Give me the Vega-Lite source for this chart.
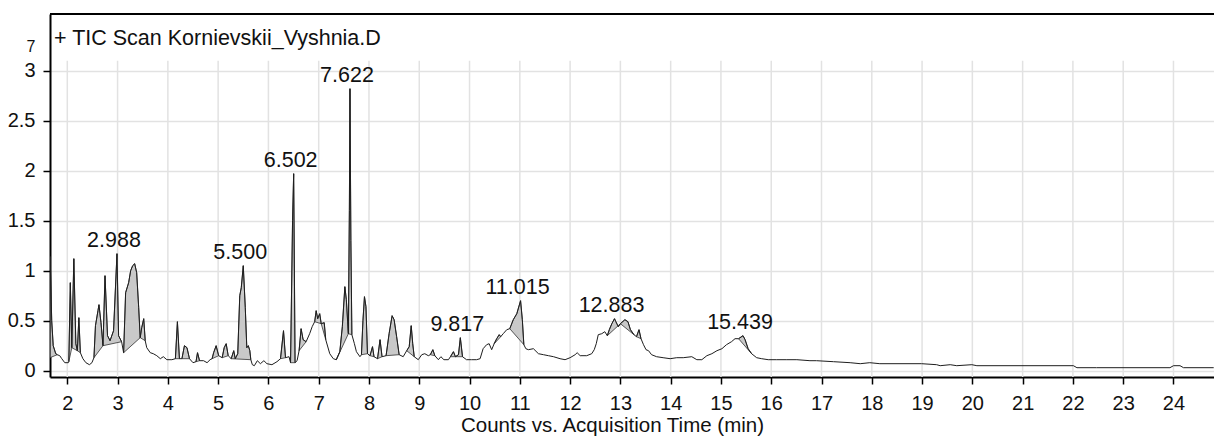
{
  "$schema": "https://vega.github.io/schema/vega-lite/v6.json",
  "width": 1164,
  "height": 363,
  "autosize": {"type": "none"},
  "padding": {"left": 50, "top": 14, "right": 0, "bottom": 59},
  "background": "white",
  "view": {"stroke": "transparent", "strokeWidth": 0},
  "title": {
    "text": "+ TIC Scan Kornievskii_Vyshnia.D",
    "anchor": "start",
    "frame": "group",
    "orient": "top",
    "offset": -53,
    "baseline": "alphabetic",
    "dx": 4,
    "font": "Liberation Sans",
    "fontSize": 21.5,
    "fontWeight": "normal",
    "color": "#111111"
  },
  "config": {
    "view": {"stroke": "transparent", "strokeWidth": 0},
    "font": "Liberation Sans"
  },
  "datasets": {
    "tic": [
      {"t": 1.656, "v": 0.13}, {"t": 1.66, "v": 1.14}, {"t": 1.69, "v": 0.5}, {"t": 1.72, "v": 0.25},
      {"t": 1.77, "v": 0.17}, {"t": 1.80, "v": 0.16}, {"t": 1.85, "v": 0.15}, {"t": 1.89, "v": 0.12},
      {"t": 1.95, "v": 0.08}, {"t": 2.02, "v": 0.08}, {"t": 2.03, "v": 0.09}, {"t": 2.06, "v": 0.88},
      {"t": 2.09, "v": 0.23}, {"t": 2.13, "v": 1.12}, {"t": 2.17, "v": 0.27}, {"t": 2.20, "v": 0.2},
      {"t": 2.23, "v": 0.53}, {"t": 2.26, "v": 0.18}, {"t": 2.31, "v": 0.12}, {"t": 2.37, "v": 0.08},
      {"t": 2.44, "v": 0.06}, {"t": 2.49, "v": 0.08}, {"t": 2.53, "v": 0.13}, {"t": 2.56, "v": 0.45},
      {"t": 2.61, "v": 0.6}, {"t": 2.63, "v": 0.66}, {"t": 2.67, "v": 0.48}, {"t": 2.71, "v": 0.25},
      {"t": 2.75, "v": 0.95}, {"t": 2.80, "v": 0.35}, {"t": 2.85, "v": 0.3}, {"t": 2.92, "v": 0.4},
      {"t": 2.988, "v": 1.17}, {"t": 3.02, "v": 0.35}, {"t": 3.08, "v": 0.29}, {"t": 3.12, "v": 0.18},
      {"t": 3.16, "v": 0.78}, {"t": 3.22, "v": 0.88}, {"t": 3.26, "v": 1.0}, {"t": 3.30, "v": 1.05},
      {"t": 3.34, "v": 1.07}, {"t": 3.38, "v": 0.98}, {"t": 3.42, "v": 0.63}, {"t": 3.45, "v": 0.33},
      {"t": 3.48, "v": 0.43}, {"t": 3.52, "v": 0.52}, {"t": 3.55, "v": 0.3}, {"t": 3.58, "v": 0.23},
      {"t": 3.65, "v": 0.18}, {"t": 3.71, "v": 0.17}, {"t": 3.78, "v": 0.15}, {"t": 3.85, "v": 0.12},
      {"t": 3.91, "v": 0.14}, {"t": 3.98, "v": 0.11}, {"t": 4.08, "v": 0.11}, {"t": 4.15, "v": 0.12},
      {"t": 4.19, "v": 0.49}, {"t": 4.23, "v": 0.12}, {"t": 4.28, "v": 0.12}, {"t": 4.33, "v": 0.25},
      {"t": 4.38, "v": 0.23}, {"t": 4.43, "v": 0.12}, {"t": 4.50, "v": 0.08}, {"t": 4.56, "v": 0.09},
      {"t": 4.59, "v": 0.18}, {"t": 4.63, "v": 0.1}, {"t": 4.71, "v": 0.1}, {"t": 4.78, "v": 0.08},
      {"t": 4.84, "v": 0.11}, {"t": 4.88, "v": 0.12}, {"t": 4.91, "v": 0.18}, {"t": 4.96, "v": 0.25},
      {"t": 5.01, "v": 0.15}, {"t": 5.08, "v": 0.13}, {"t": 5.12, "v": 0.23}, {"t": 5.16, "v": 0.27},
      {"t": 5.20, "v": 0.15}, {"t": 5.26, "v": 0.12}, {"t": 5.31, "v": 0.2}, {"t": 5.34, "v": 0.12},
      {"t": 5.39, "v": 0.17}, {"t": 5.43, "v": 0.75}, {"t": 5.46, "v": 0.83}, {"t": 5.50, "v": 1.05},
      {"t": 5.54, "v": 0.63}, {"t": 5.57, "v": 0.23}, {"t": 5.60, "v": 0.25}, {"t": 5.63, "v": 0.2},
      {"t": 5.65, "v": 0.11}, {"t": 5.68, "v": 0.06}, {"t": 5.72, "v": 0.05}, {"t": 5.78, "v": 0.1},
      {"t": 5.84, "v": 0.07}, {"t": 5.91, "v": 0.1}, {"t": 5.97, "v": 0.07}, {"t": 6.07, "v": 0.06},
      {"t": 6.17, "v": 0.09}, {"t": 6.24, "v": 0.12}, {"t": 6.30, "v": 0.4}, {"t": 6.34, "v": 0.13},
      {"t": 6.41, "v": 0.14}, {"t": 6.44, "v": 0.08}, {"t": 6.48, "v": 1.5}, {"t": 6.502, "v": 1.97},
      {"t": 6.53, "v": 0.08}, {"t": 6.57, "v": 0.1}, {"t": 6.61, "v": 0.2}, {"t": 6.65, "v": 0.42},
      {"t": 6.69, "v": 0.31}, {"t": 6.75, "v": 0.29}, {"t": 6.82, "v": 0.37}, {"t": 6.87, "v": 0.44},
      {"t": 6.92, "v": 0.49}, {"t": 6.95, "v": 0.6}, {"t": 6.98, "v": 0.52}, {"t": 7.02, "v": 0.57},
      {"t": 7.05, "v": 0.47}, {"t": 7.11, "v": 0.48}, {"t": 7.14, "v": 0.31}, {"t": 7.22, "v": 0.17},
      {"t": 7.29, "v": 0.12}, {"t": 7.35, "v": 0.11}, {"t": 7.42, "v": 0.19}, {"t": 7.47, "v": 0.44},
      {"t": 7.52, "v": 0.84}, {"t": 7.55, "v": 0.71}, {"t": 7.59, "v": 0.37}, {"t": 7.61, "v": 1.6},
      {"t": 7.622, "v": 2.82}, {"t": 7.64, "v": 1.3}, {"t": 7.66, "v": 0.36}, {"t": 7.71, "v": 0.27},
      {"t": 7.75, "v": 0.19}, {"t": 7.82, "v": 0.14}, {"t": 7.85, "v": 0.16}, {"t": 7.88, "v": 0.5},
      {"t": 7.91, "v": 0.74}, {"t": 7.94, "v": 0.64}, {"t": 7.97, "v": 0.17}, {"t": 8.02, "v": 0.15},
      {"t": 8.07, "v": 0.24}, {"t": 8.10, "v": 0.14}, {"t": 8.17, "v": 0.12}, {"t": 8.22, "v": 0.31},
      {"t": 8.26, "v": 0.14}, {"t": 8.34, "v": 0.15}, {"t": 8.40, "v": 0.37}, {"t": 8.46, "v": 0.55},
      {"t": 8.50, "v": 0.51}, {"t": 8.55, "v": 0.34}, {"t": 8.60, "v": 0.16}, {"t": 8.68, "v": 0.14},
      {"t": 8.75, "v": 0.2}, {"t": 8.80, "v": 0.24}, {"t": 8.84, "v": 0.45}, {"t": 8.87, "v": 0.27},
      {"t": 8.90, "v": 0.14}, {"t": 8.98, "v": 0.11}, {"t": 9.05, "v": 0.16}, {"t": 9.11, "v": 0.17},
      {"t": 9.18, "v": 0.15}, {"t": 9.22, "v": 0.16}, {"t": 9.27, "v": 0.21}, {"t": 9.31, "v": 0.15},
      {"t": 9.38, "v": 0.11}, {"t": 9.43, "v": 0.14}, {"t": 9.49, "v": 0.11}, {"t": 9.58, "v": 0.11},
      {"t": 9.62, "v": 0.14}, {"t": 9.68, "v": 0.19}, {"t": 9.72, "v": 0.14}, {"t": 9.78, "v": 0.16},
      {"t": 9.817, "v": 0.33}, {"t": 9.86, "v": 0.14}, {"t": 9.94, "v": 0.11}, {"t": 10.04, "v": 0.11},
      {"t": 10.14, "v": 0.11}, {"t": 10.21, "v": 0.12}, {"t": 10.27, "v": 0.22}, {"t": 10.34, "v": 0.26},
      {"t": 10.39, "v": 0.27}, {"t": 10.44, "v": 0.21}, {"t": 10.49, "v": 0.27}, {"t": 10.54, "v": 0.32},
      {"t": 10.59, "v": 0.36}, {"t": 10.62, "v": 0.34}, {"t": 10.67, "v": 0.37}, {"t": 10.74, "v": 0.41},
      {"t": 10.80, "v": 0.42}, {"t": 10.87, "v": 0.51}, {"t": 10.94, "v": 0.57}, {"t": 11.015, "v": 0.70},
      {"t": 11.05, "v": 0.51}, {"t": 11.08, "v": 0.26}, {"t": 11.12, "v": 0.22}, {"t": 11.17, "v": 0.21},
      {"t": 11.27, "v": 0.22}, {"t": 11.37, "v": 0.17}, {"t": 11.47, "v": 0.16}, {"t": 11.57, "v": 0.15},
      {"t": 11.67, "v": 0.14}, {"t": 11.80, "v": 0.12}, {"t": 11.90, "v": 0.11}, {"t": 12.0, "v": 0.13},
      {"t": 12.10, "v": 0.16}, {"t": 12.14, "v": 0.18}, {"t": 12.2, "v": 0.15}, {"t": 12.33, "v": 0.15},
      {"t": 12.43, "v": 0.17}, {"t": 12.48, "v": 0.21}, {"t": 12.52, "v": 0.27}, {"t": 12.56, "v": 0.36},
      {"t": 12.63, "v": 0.37}, {"t": 12.69, "v": 0.39}, {"t": 12.74, "v": 0.35}, {"t": 12.78, "v": 0.41},
      {"t": 12.83, "v": 0.47}, {"t": 12.883, "v": 0.52}, {"t": 12.91, "v": 0.49}, {"t": 12.96, "v": 0.44},
      {"t": 13.0, "v": 0.47}, {"t": 13.09, "v": 0.51}, {"t": 13.15, "v": 0.49}, {"t": 13.20, "v": 0.41},
      {"t": 13.27, "v": 0.36}, {"t": 13.32, "v": 0.34}, {"t": 13.37, "v": 0.41}, {"t": 13.41, "v": 0.32},
      {"t": 13.46, "v": 0.26}, {"t": 13.51, "v": 0.21}, {"t": 13.56, "v": 0.2}, {"t": 13.62, "v": 0.16},
      {"t": 13.72, "v": 0.14}, {"t": 13.85, "v": 0.13}, {"t": 13.99, "v": 0.12}, {"t": 14.12, "v": 0.13},
      {"t": 14.25, "v": 0.13}, {"t": 14.42, "v": 0.14}, {"t": 14.52, "v": 0.11}, {"t": 14.62, "v": 0.11},
      {"t": 14.72, "v": 0.15}, {"t": 14.82, "v": 0.17}, {"t": 14.92, "v": 0.2}, {"t": 15.02, "v": 0.22},
      {"t": 15.11, "v": 0.26}, {"t": 15.21, "v": 0.29}, {"t": 15.28, "v": 0.32}, {"t": 15.35, "v": 0.32},
      {"t": 15.439, "v": 0.35}, {"t": 15.48, "v": 0.31}, {"t": 15.54, "v": 0.22}, {"t": 15.61, "v": 0.17},
      {"t": 15.71, "v": 0.13}, {"t": 15.81, "v": 0.12}, {"t": 15.94, "v": 0.11}, {"t": 16.11, "v": 0.11},
      {"t": 16.31, "v": 0.11}, {"t": 16.51, "v": 0.11}, {"t": 16.77, "v": 0.10}, {"t": 16.9, "v": 0.10},
      {"t": 17.24, "v": 0.09}, {"t": 17.57, "v": 0.08}, {"t": 17.77, "v": 0.07}, {"t": 17.96, "v": 0.08},
      {"t": 18.16, "v": 0.07}, {"t": 18.99, "v": 0.07}, {"t": 19.29, "v": 0.06}, {"t": 19.36, "v": 0.05},
      {"t": 19.56, "v": 0.06}, {"t": 19.69, "v": 0.05}, {"t": 19.99, "v": 0.06}, {"t": 20.09, "v": 0.05},
      {"t": 22.01, "v": 0.05}, {"t": 22.08, "v": 0.03}, {"t": 22.47, "v": 0.03}, {"t": 23.93, "v": 0.03},
      {"t": 24.0, "v": 0.05}, {"t": 24.13, "v": 0.05}, {"t": 24.2, "v": 0.03}, {"t": 24.8, "v": 0.03}
    ],
    "integrated": [
      {"peak": 1, "t": 1.656, "v": 0.13}, {"peak": 1, "t": 1.66, "v": 1.14}, {"peak": 1, "t": 1.69, "v": 0.5}, {"peak": 1, "t": 1.72, "v": 0.25}, {"peak": 1, "t": 1.77, "v": 0.17}, {"peak": 1, "t": 1.80, "v": 0.16},
      {"peak": 2, "t": 2.03, "v": 0.09}, {"peak": 2, "t": 2.06, "v": 0.88}, {"peak": 2, "t": 2.09, "v": 0.23},
      {"peak": 3, "t": 2.09, "v": 0.23}, {"peak": 3, "t": 2.13, "v": 1.12}, {"peak": 3, "t": 2.17, "v": 0.27}, {"peak": 3, "t": 2.20, "v": 0.2},
      {"peak": 4, "t": 2.20, "v": 0.2}, {"peak": 4, "t": 2.23, "v": 0.53}, {"peak": 4, "t": 2.26, "v": 0.18},
      {"peak": 5, "t": 2.53, "v": 0.13}, {"peak": 5, "t": 2.56, "v": 0.45}, {"peak": 5, "t": 2.61, "v": 0.6}, {"peak": 5, "t": 2.63, "v": 0.66}, {"peak": 5, "t": 2.67, "v": 0.48}, {"peak": 5, "t": 2.71, "v": 0.25},
      {"peak": 6, "t": 2.71, "v": 0.25}, {"peak": 6, "t": 2.75, "v": 0.95}, {"peak": 6, "t": 2.80, "v": 0.35}, {"peak": 6, "t": 2.85, "v": 0.3}, {"peak": 6, "t": 2.92, "v": 0.4}, {"peak": 6, "t": 2.988, "v": 1.17}, {"peak": 6, "t": 3.02, "v": 0.35}, {"peak": 6, "t": 3.08, "v": 0.29},
      {"peak": 7, "t": 3.12, "v": 0.18}, {"peak": 7, "t": 3.16, "v": 0.78}, {"peak": 7, "t": 3.22, "v": 0.88}, {"peak": 7, "t": 3.26, "v": 1.0}, {"peak": 7, "t": 3.30, "v": 1.05}, {"peak": 7, "t": 3.34, "v": 1.07}, {"peak": 7, "t": 3.38, "v": 0.98}, {"peak": 7, "t": 3.42, "v": 0.63}, {"peak": 7, "t": 3.45, "v": 0.33},
      {"peak": 8, "t": 3.45, "v": 0.33}, {"peak": 8, "t": 3.48, "v": 0.43}, {"peak": 8, "t": 3.52, "v": 0.52}, {"peak": 8, "t": 3.55, "v": 0.3},
      {"peak": 9, "t": 4.15, "v": 0.12}, {"peak": 9, "t": 4.19, "v": 0.49}, {"peak": 9, "t": 4.23, "v": 0.12},
      {"peak": 10, "t": 4.28, "v": 0.12}, {"peak": 10, "t": 4.33, "v": 0.25}, {"peak": 10, "t": 4.38, "v": 0.23}, {"peak": 10, "t": 4.43, "v": 0.12},
      {"peak": 11, "t": 4.56, "v": 0.09}, {"peak": 11, "t": 4.59, "v": 0.18}, {"peak": 11, "t": 4.63, "v": 0.1},
      {"peak": 12, "t": 4.88, "v": 0.12}, {"peak": 12, "t": 4.91, "v": 0.18}, {"peak": 12, "t": 4.96, "v": 0.25}, {"peak": 12, "t": 5.01, "v": 0.15},
      {"peak": 13, "t": 5.08, "v": 0.13}, {"peak": 13, "t": 5.12, "v": 0.23}, {"peak": 13, "t": 5.16, "v": 0.27}, {"peak": 13, "t": 5.20, "v": 0.15},
      {"peak": 14, "t": 5.26, "v": 0.12}, {"peak": 14, "t": 5.31, "v": 0.2}, {"peak": 14, "t": 5.34, "v": 0.12}, {"peak": 14, "t": 5.39, "v": 0.17}, {"peak": 14, "t": 5.43, "v": 0.75}, {"peak": 14, "t": 5.46, "v": 0.83}, {"peak": 14, "t": 5.50, "v": 1.05}, {"peak": 14, "t": 5.54, "v": 0.63}, {"peak": 14, "t": 5.57, "v": 0.23}, {"peak": 14, "t": 5.60, "v": 0.25}, {"peak": 14, "t": 5.63, "v": 0.2}, {"peak": 14, "t": 5.65, "v": 0.11},
      {"peak": 15, "t": 6.24, "v": 0.12}, {"peak": 15, "t": 6.30, "v": 0.4}, {"peak": 15, "t": 6.34, "v": 0.13},
      {"peak": 16, "t": 6.44, "v": 0.08}, {"peak": 16, "t": 6.48, "v": 1.5}, {"peak": 16, "t": 6.502, "v": 1.97}, {"peak": 16, "t": 6.53, "v": 0.08},
      {"peak": 17, "t": 6.61, "v": 0.2}, {"peak": 17, "t": 6.65, "v": 0.42}, {"peak": 17, "t": 6.69, "v": 0.31}, {"peak": 17, "t": 6.75, "v": 0.29},
      {"peak": 18, "t": 6.92, "v": 0.49}, {"peak": 18, "t": 6.95, "v": 0.6}, {"peak": 18, "t": 6.98, "v": 0.52}, {"peak": 18, "t": 7.02, "v": 0.57}, {"peak": 18, "t": 7.05, "v": 0.47},
      {"peak": 19, "t": 7.05, "v": 0.47}, {"peak": 19, "t": 7.11, "v": 0.48}, {"peak": 19, "t": 7.14, "v": 0.31},
      {"peak": 20, "t": 7.35, "v": 0.11}, {"peak": 20, "t": 7.42, "v": 0.19}, {"peak": 20, "t": 7.47, "v": 0.44}, {"peak": 20, "t": 7.52, "v": 0.84}, {"peak": 20, "t": 7.55, "v": 0.71}, {"peak": 20, "t": 7.59, "v": 0.37},
      {"peak": 21, "t": 7.59, "v": 0.37}, {"peak": 21, "t": 7.61, "v": 1.6}, {"peak": 21, "t": 7.622, "v": 2.82}, {"peak": 21, "t": 7.64, "v": 1.3}, {"peak": 21, "t": 7.66, "v": 0.36},
      {"peak": 22, "t": 7.85, "v": 0.16}, {"peak": 22, "t": 7.88, "v": 0.5}, {"peak": 22, "t": 7.91, "v": 0.74}, {"peak": 22, "t": 7.94, "v": 0.64}, {"peak": 22, "t": 7.97, "v": 0.17},
      {"peak": 23, "t": 8.02, "v": 0.15}, {"peak": 23, "t": 8.07, "v": 0.24}, {"peak": 23, "t": 8.10, "v": 0.14},
      {"peak": 24, "t": 8.17, "v": 0.12}, {"peak": 24, "t": 8.22, "v": 0.31}, {"peak": 24, "t": 8.26, "v": 0.14},
      {"peak": 25, "t": 8.34, "v": 0.15}, {"peak": 25, "t": 8.40, "v": 0.37}, {"peak": 25, "t": 8.46, "v": 0.55}, {"peak": 25, "t": 8.50, "v": 0.51}, {"peak": 25, "t": 8.55, "v": 0.34}, {"peak": 25, "t": 8.60, "v": 0.16},
      {"peak": 26, "t": 8.75, "v": 0.2}, {"peak": 26, "t": 8.80, "v": 0.24}, {"peak": 26, "t": 8.84, "v": 0.45}, {"peak": 26, "t": 8.87, "v": 0.27}, {"peak": 26, "t": 8.90, "v": 0.14},
      {"peak": 27, "t": 9.22, "v": 0.16}, {"peak": 27, "t": 9.27, "v": 0.21}, {"peak": 27, "t": 9.31, "v": 0.15},
      {"peak": 28, "t": 9.62, "v": 0.14}, {"peak": 28, "t": 9.68, "v": 0.19}, {"peak": 28, "t": 9.72, "v": 0.14},
      {"peak": 29, "t": 9.72, "v": 0.14}, {"peak": 29, "t": 9.78, "v": 0.16}, {"peak": 29, "t": 9.817, "v": 0.33}, {"peak": 29, "t": 9.86, "v": 0.14},
      {"peak": 30, "t": 10.49, "v": 0.27}, {"peak": 30, "t": 10.54, "v": 0.32}, {"peak": 30, "t": 10.59, "v": 0.36}, {"peak": 30, "t": 10.62, "v": 0.34},
      {"peak": 31, "t": 10.80, "v": 0.42}, {"peak": 31, "t": 10.87, "v": 0.51}, {"peak": 31, "t": 10.94, "v": 0.57}, {"peak": 31, "t": 11.015, "v": 0.70}, {"peak": 31, "t": 11.05, "v": 0.51}, {"peak": 31, "t": 11.08, "v": 0.26},
      {"peak": 32, "t": 12.74, "v": 0.35}, {"peak": 32, "t": 12.78, "v": 0.41}, {"peak": 32, "t": 12.83, "v": 0.47}, {"peak": 32, "t": 12.883, "v": 0.52}, {"peak": 32, "t": 12.91, "v": 0.49}, {"peak": 32, "t": 12.96, "v": 0.44}, {"peak": 32, "t": 13.0, "v": 0.47},
      {"peak": 33, "t": 13.0, "v": 0.47}, {"peak": 33, "t": 13.09, "v": 0.51}, {"peak": 33, "t": 13.15, "v": 0.49}, {"peak": 33, "t": 13.20, "v": 0.41}, {"peak": 33, "t": 13.27, "v": 0.36},
      {"peak": 34, "t": 13.32, "v": 0.34}, {"peak": 34, "t": 13.37, "v": 0.41}, {"peak": 34, "t": 13.41, "v": 0.32},
      {"peak": 35, "t": 15.35, "v": 0.32}, {"peak": 35, "t": 15.439, "v": 0.35}, {"peak": 35, "t": 15.48, "v": 0.31}, {"peak": 35, "t": 15.54, "v": 0.22}, {"peak": 35, "t": 15.61, "v": 0.17}
    ],
    "apexes": [
      {"t": 2.988, "v": 1.17}, {"t": 5.500, "v": 1.05}, {"t": 6.502, "v": 1.97}, {"t": 7.622, "v": 2.82},
      {"t": 9.817, "v": 0.33}, {"t": 11.015, "v": 0.70}, {"t": 12.883, "v": 0.52}, {"t": 15.439, "v": 0.35}
    ],
    "minutes": [
      {"t": 2}, {"t": 3}, {"t": 4}, {"t": 5}, {"t": 6}, {"t": 7}, {"t": 8}, {"t": 9}, {"t": 10}, {"t": 11}, {"t": 12},
      {"t": 13}, {"t": 14}, {"t": 15}, {"t": 16}, {"t": 17}, {"t": 18}, {"t": 19}, {"t": 20}, {"t": 21}, {"t": 22},
      {"t": 23}, {"t": 24}
    ]
  },
  "layer": [
    {
      "data": {"name": "minutes"},
      "mark": {"type": "rule", "color": "#e2e2e2", "strokeWidth": 1.5},
      "encoding": {
        "x": {
          "field": "t",
          "type": "quantitative",
          "scale": {"domain": [1.656, 24.806], "nice": false, "zero": false},
          "axis": {
            "orient": "bottom",
            "values": [2, 3, 4, 5, 6, 7, 8, 9, 10, 11, 12, 13, 14, 15, 16, 17, 18, 19, 20, 21, 22, 23, 24],
            "format": "d",
            "grid": false,
            "domain": true,
            "domainColor": "#000000",
            "domainWidth": 2,
            "ticks": true,
            "tickColor": "#000000",
            "tickSize": 7,
            "tickWidth": 1.5,
            "labelFont": "Liberation Sans",
            "labelFontSize": 20,
            "labelColor": "#111111",
            "labelBaseline": "alphabetic",
            "labelPadding": 25,
            "labelFlush": false,
            "labelOverlap": false,
            "title": "Counts vs. Acquisition Time (min)",
            "titleFont": "Liberation Sans",
            "titleFontSize": 20.5,
            "titleFontWeight": "normal",
            "titleColor": "#111111",
            "titleBaseline": "alphabetic",
            "titleAlign": "center",
            "titleX": 562,
            "titleY": 54
          }
        },
        "y": {"datum": 3.1, "type": "quantitative"},
        "y2": {"datum": -0.063}
      }
    },
    {
      "data": {"name": "integrated"},
      "mark": {"type": "line", "interpolate": "linear-closed", "fill": "#c9c9c9", "stroke": "#333333", "strokeWidth": 0.8, "clip": true},
      "encoding": {
        "x": {"field": "t", "type": "quantitative"},
        "y": {
          "field": "v",
          "type": "quantitative",
          "scale": {"domain": [-0.063, 3.567], "nice": false, "zero": false},
          "axis": {
            "orient": "left",
            "values": [0, 0.5, 1, 1.5, 2, 2.5, 3],
            "format": "~g",
            "grid": true,
            "gridColor": "#e2e2e2",
            "gridWidth": 1.5,
            "domain": true,
            "domainColor": "#000000",
            "domainWidth": 2,
            "ticks": true,
            "tickColor": "#000000",
            "tickSize": 7,
            "tickWidth": 1.5,
            "labelFont": "Liberation Sans",
            "labelFontSize": 20,
            "labelColor": "#111111",
            "labelPadding": 8,
            "labelFlush": false,
            "labelOverlap": false,
            "title": "7",
            "titleFont": "Liberation Sans",
            "titleFontSize": 16,
            "titleFontWeight": "normal",
            "titleColor": "#111111",
            "titleAngle": 0,
            "titleAlign": "right",
            "titleBaseline": "alphabetic",
            "titleX": -15,
            "titleY": 37
          }
        },
        "detail": {"field": "peak", "type": "nominal"}
      }
    },
    {
      "data": {"name": "tic"},
      "mark": {"type": "line", "color": "#1e1e1e", "strokeWidth": 1, "clip": true},
      "encoding": {
        "x": {"field": "t", "type": "quantitative"},
        "y": {"field": "v", "type": "quantitative"}
      }
    },
    {
      "data": {"values": [{"edge": "top"}]},
      "mark": {"type": "rule", "color": "#000000", "strokeWidth": 2},
      "encoding": {
        "x": {"datum": 1.656, "type": "quantitative"},
        "x2": {"datum": 24.806},
        "y": {"datum": 3.567, "type": "quantitative"}
      }
    },
    {
      "data": {"name": "apexes"},
      "mark": {"type": "text", "font": "Liberation Sans", "fontSize": 21.5, "color": "#111111", "baseline": "alphabetic", "align": "center", "dx": -3, "dy": -7},
      "encoding": {
        "x": {"field": "t", "type": "quantitative"},
        "y": {"field": "v", "type": "quantitative"},
        "text": {"field": "t", "type": "quantitative", "format": ".3f"}
      }
    }
  ]
}
